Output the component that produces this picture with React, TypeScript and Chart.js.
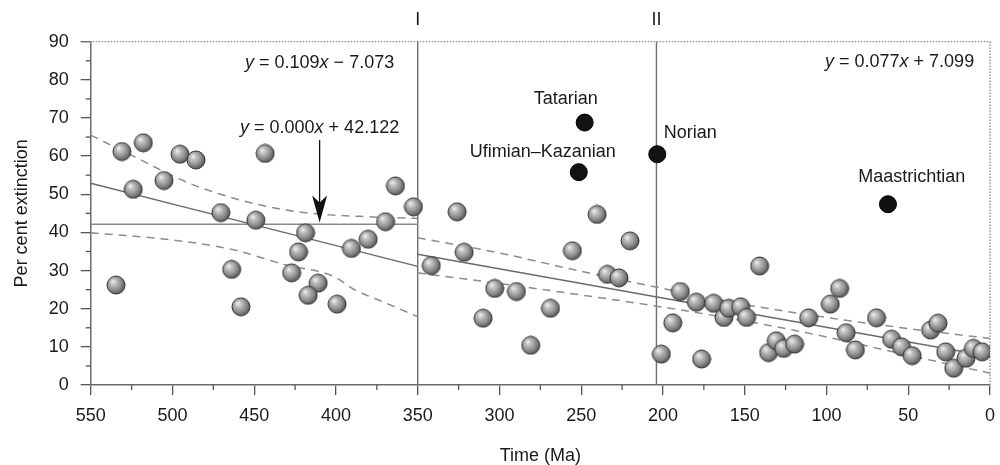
import React, { useEffect, useRef } from "react";
import { Chart, registerables } from "chart.js";

Chart.register(...registerables);

// ---- data (x = time in Ma, y = per cent extinction) ----
const grayX = [
  530.9, 517.8, 524, 495.4, 485.6, 505.2, 443.3, 470.4, 449, 418.6, 422.9, 427.1, 463.8, 534.5, 458.1, 410.9, 417,
  399.3, 390.5, 380.3, 369.7, 363.6, 352.6, 341.7, 325.9, 321.6, 302.9, 310, 289.6, 268.8, 280.9,
  255.4, 240.3, 220.2, 234, 226.9, 189.4, 194, 201, 176.4, 179.6, 169, 162.7, 159.8, 152.5, 148.9, 140.9, 135.4, 130.7, 126.2,
  119.5, 110.9, 97.7, 92, 88, 82.3, 69.4, 60.2, 54.1, 47.6, 36.3, 31.8, 27.1, 22.2, 14.7, 10.1, 4.8,
];
const grayY = [
  61.2, 63.5, 51.3, 60.5, 59, 53.6, 60.7, 45.2, 43.2, 39.9, 34.9, 29.4, 30.3, 26.2, 20.5, 26.7, 23.5,
  21.2, 35.8, 38.2, 42.8, 52.2, 46.7, 31.3, 45.4, 34.8, 25.3, 17.5, 24.5, 20.1, 10.4,
  35.2, 44.7, 37.8, 29, 28.1, 24.5, 16.3, 8.1, 6.8, 21.7, 21.4, 17.7, 20.1, 20.5, 17.7, 31.2, 8.5, 11.6, 9.6,
  10.7, 17.6, 21.2, 25.3, 13.7, 9.2, 17.6, 12, 10, 7.7, 14.4, 16.2, 8.7, 4.4, 7, 9.6, 8.7,
];

const stageNames = ["Tatarian", "Ufimian–Kazanian", "Norian", "Maastrichtian"];
const stageX = [247.9, 251.5, 203.5, 62.4];
const stageY = [68.8, 55.8, 60.5, 47.4];

// regression before boundary I
const fit1X = [550, 350];
const fit1Y = [52.9, 31.1];
const band1X = [550, 523, 492, 462, 431, 404, 390, 369, 350];
const band1Upper = [65.5, 59.8, 53.3, 48.9, 45.9, 44.6, 44.3, 43.9, 43.7];
const band1LowerX = [550, 523, 492, 462, 431, 401, 390, 369, 350];
const band1Lower = [39.9, 39.0, 37.6, 35.4, 31.5, 28.4, 25.3, 21.4, 17.9];
const flatX = [550, 350];
const flatY = [42.122, 42.122];

// regression after boundary I
const fit2X = [350, 0];
const fit2Y = [34.3, 7.5];
const band2X = [350, 300, 250, 200, 150, 100, 50, 0];
const band2Upper = [38.6, 34.6, 29.8, 25.3, 21.1, 17.7, 14.8, 12.2];
const band2Lower = [29.4, 26.6, 23.6, 20.4, 16.8, 12.6, 7.8, 3.1];

const boundaryX = [350, 204];
const boundaryLabels = ["I", "II"];

const xTickValues = [550, 500, 450, 400, 350, 300, 250, 200, 150, 100, 50, 0];
const xMinorValues = [525, 475, 425, 375, 325, 275, 225, 175, 125, 75, 25];
const yTickValues = [0, 10, 20, 30, 40, 50, 60, 70, 80, 90];
const yMinorValues = [5, 15, 25, 35, 45, 55, 65, 75, 85];

const equations = [
  { parts: [["y", true], [" = 0.109", false], ["x", true], [" − 7.073", false]], x: 410, y: 84.4 },
  { parts: [["y", true], [" = 0.000", false], ["x", true], [" + 42.122", false]], x: 410, y: 67.4 },
  { parts: [["y", true], [" = 0.077", false], ["x", true], [" + 7.099", false]], x: 55.3, y: 84.7 },
];
const stageLabelX = [259.5, 273.5, 199.6, 47.9];
const stageLabelY = [75, 61.1, 66, 54.5];
const stageLabelAlign = ["center", "center", "left", "center"];

const arrowX = 410;
const arrowFromY = 64.2;
const arrowToY = 42.6;

const FONT = '"Liberation Sans", Arial, Helvetica, sans-serif';
const FS = 18;

function zip(xs: number[], ys: number[]) {
  return xs.map((x, i) => ({ x, y: ys[i] }));
}

function makeSphere(r: number) {
  const c = document.createElement("canvas");
  const s = Math.ceil(r * 2 + 2);
  c.width = s;
  c.height = s;
  const g = c.getContext("2d")!;
  const cx = s / 2, cy = s / 2;
  const grad = g.createRadialGradient(cx - r * 0.35, cy - r * 0.4, 0, cx - r * 0.1, cy - r * 0.1, r * 1.25);
  grad.addColorStop(0, "#f4f4f4");
  grad.addColorStop(0.25, "#c4c4c4");
  grad.addColorStop(0.65, "#898989");
  grad.addColorStop(1, "#444");
  g.beginPath();
  g.arc(cx, cy, r, 0, Math.PI * 2);
  g.fillStyle = grad;
  g.fill();
  g.lineWidth = 1;
  g.strokeStyle = "#333";
  g.stroke();
  return c;
}

const overlay = {
  id: "overlay",
  beforeDatasetsDraw(chart: any) {
    const { ctx, chartArea: a, scales } = chart;
    const xs = scales.x, ys = scales.y;
    ctx.save();
    // top & right dotted frame
    ctx.strokeStyle = "#8a8a8a";
    ctx.lineWidth = 1.3;
    ctx.setLineDash([1.5, 1.5]);
    ctx.beginPath();
    ctx.moveTo(a.left - 10, a.top);
    ctx.lineTo(a.right, a.top);
    ctx.lineTo(a.right, a.bottom);
    ctx.stroke();
    ctx.setLineDash([]);
    // boundaries
    ctx.strokeStyle = "#6e6e6e";
    ctx.lineWidth = 1.4;
    boundaryX.forEach((bx) => {
      const px = xs.getPixelForValue(bx);
      ctx.beginPath();
      ctx.moveTo(px, a.top);
      ctx.lineTo(px, a.bottom);
      ctx.stroke();
    });
    // minor ticks
    ctx.strokeStyle = "#555";
    ctx.lineWidth = 1.3;
    xMinorValues.forEach((v) => {
      const px = xs.getPixelForValue(v);
      ctx.beginPath();
      ctx.moveTo(px, a.bottom);
      ctx.lineTo(px, a.bottom + 5);
      ctx.stroke();
    });
    yMinorValues.forEach((v) => {
      const py = ys.getPixelForValue(v);
      ctx.beginPath();
      ctx.moveTo(a.left, py);
      ctx.lineTo(a.left - 5, py);
      ctx.stroke();
    });
    ctx.restore();
  },
  afterDatasetsDraw(chart: any) {
    const { ctx, chartArea: a, scales } = chart;
    const xs = scales.x, ys = scales.y;
    ctx.save();
    ctx.fillStyle = "#1a1a1a";
    ctx.textBaseline = "middle";
    // boundary labels
    ctx.font = `${FS}px ${FONT}`;
    ctx.textAlign = "center";
    boundaryX.forEach((bx, i) => {
      ctx.fillText(boundaryLabels[i], xs.getPixelForValue(bx), 20);
    });
    // stage labels
    stageNames.forEach((n, i) => {
      ctx.textAlign = stageLabelAlign[i] as CanvasTextAlign;
      ctx.fillText(n, xs.getPixelForValue(stageLabelX[i]), ys.getPixelForValue(stageLabelY[i]));
    });
    // equations
    equations.forEach((eq) => {
      const fonts = eq.parts.map((p) => `${p[1] ? "italic " : ""}${FS}px ${FONT}`);
      let total = 0;
      const widths = eq.parts.map((p, i) => {
        ctx.font = fonts[i];
        const w = ctx.measureText(p[0] as string).width;
        total += w;
        return w;
      });
      let px = xs.getPixelForValue(eq.x) - total / 2;
      const py = ys.getPixelForValue(eq.y);
      ctx.textAlign = "left";
      eq.parts.forEach((p, i) => {
        ctx.font = fonts[i];
        ctx.fillText(p[0] as string, px, py);
        px += widths[i];
      });
    });
    // arrow
    const ax = xs.getPixelForValue(arrowX);
    const ay0 = ys.getPixelForValue(arrowFromY);
    const ay1 = ys.getPixelForValue(arrowToY);
    ctx.strokeStyle = "#111";
    ctx.lineWidth = 1.3;
    ctx.beginPath();
    ctx.moveTo(ax, ay0);
    ctx.lineTo(ax, ay1 - 10);
    ctx.stroke();
    ctx.fillStyle = "#111";
    ctx.beginPath();
    ctx.moveTo(ax, ay1);
    ctx.lineTo(ax - 7.5, ay1 - 27);
    ctx.lineTo(ax, ay1 - 20);
    ctx.lineTo(ax + 7.5, ay1 - 27);
    ctx.closePath();
    ctx.fill();
    // axis titles
    ctx.fillStyle = "#1a1a1a";
    ctx.font = `${FS}px ${FONT}`;
    ctx.textAlign = "center";
    ctx.fillText("Time (Ma)", (a.left + a.right) / 2, 456);
    ctx.translate(22, (a.top + a.bottom) / 2);
    ctx.rotate(-Math.PI / 2);
    ctx.fillText("Per cent extinction", 0, 0);
    ctx.restore();
  },
};

export default function App() {
  const ref = useRef<HTMLCanvasElement | null>(null);
  useEffect(() => {
    document.body.style.margin = "0";
    const canvas = ref.current!;
    const sphere = makeSphere(9);
    const lineDs = (data: any[], dashed: boolean, color: string) => ({
      type: "line" as const,
      data,
      showLine: true,
      borderColor: color,
      borderWidth: 1.5,
      borderDash: dashed ? [8, 6] : [],
      pointRadius: 0,
      fill: false,
      cubicInterpolationMode: "monotone" as const,
      order: 2,
    });
    const chart = new Chart(canvas, {
      type: "scatter",
      data: {
        datasets: [
          {
            data: zip(stageX, stageY),
            pointStyle: "circle",
            pointRadius: 8.5,
            backgroundColor: "#121212",
            borderColor: "#000",
            borderWidth: 1,
            order: 0,
          } as any,
          {
            data: zip(grayX, grayY),
            pointStyle: sphere as any,
            pointRadius: 9,
            order: 1,
          } as any,
          lineDs(zip(fit1X, fit1Y), false, "#6a6a6a"),
          lineDs(zip(flatX, flatY), false, "#8a8a8a"),
          lineDs(zip(band1X, band1Upper), true, "#8c8c8c"),
          lineDs(zip(band1LowerX, band1Lower), true, "#8c8c8c"),
          lineDs(zip(fit2X, fit2Y), false, "#6a6a6a"),
          lineDs(zip(band2X, band2Upper), true, "#8c8c8c"),
          lineDs(zip(band2X, band2Lower), true, "#8c8c8c"),
        ],
      },
      options: {
        animation: false,
        responsive: false,
        maintainAspectRatio: false,
        layout: { padding: { top: 41.7, right: 9.4, left: 0, bottom: 0 } },
        plugins: { legend: { display: false }, tooltip: { enabled: false } },
        scales: {
          x: {
            type: "linear",
            reverse: true,
            min: 0,
            max: 550,
            afterBuildTicks: (s: any) => {
              s.ticks = xTickValues.map((v) => ({ value: v }));
            },
            afterFit: (s: any) => {
              s.height = 80;
              s.paddingLeft = 0;
              s.paddingRight = 0;
            },
            grid: { drawOnChartArea: false, drawTicks: true, tickLength: 10, color: "#555", lineWidth: 1.3 },
            border: { color: "#6a6a6a", width: 1.5 },
            ticks: {
              font: { family: FONT, size: FS },
              color: "#1a1a1a",
              padding: 10,
              maxRotation: 0,
              autoSkip: false,
            },
          },
          y: {
            type: "linear",
            min: 0,
            max: 90,
            afterBuildTicks: (s: any) => {
              s.ticks = yTickValues.map((v) => ({ value: v }));
            },
            afterFit: (s: any) => {
              s.width = 90.7;
              s.paddingTop = 0;
              s.paddingBottom = 0;
            },
            grid: { drawOnChartArea: false, drawTicks: true, tickLength: 10, color: "#555", lineWidth: 1.3 },
            border: { color: "#6a6a6a", width: 1.5 },
            ticks: {
              font: { family: FONT, size: FS },
              color: "#1a1a1a",
              padding: 12,
              autoSkip: false,
            },
          },
        },
      } as any,
      plugins: [overlay],
    });
    return () => chart.destroy();
  }, []);
  return <canvas ref={ref} width={1000} height={465} style={{ display: "block" }} />;
}
